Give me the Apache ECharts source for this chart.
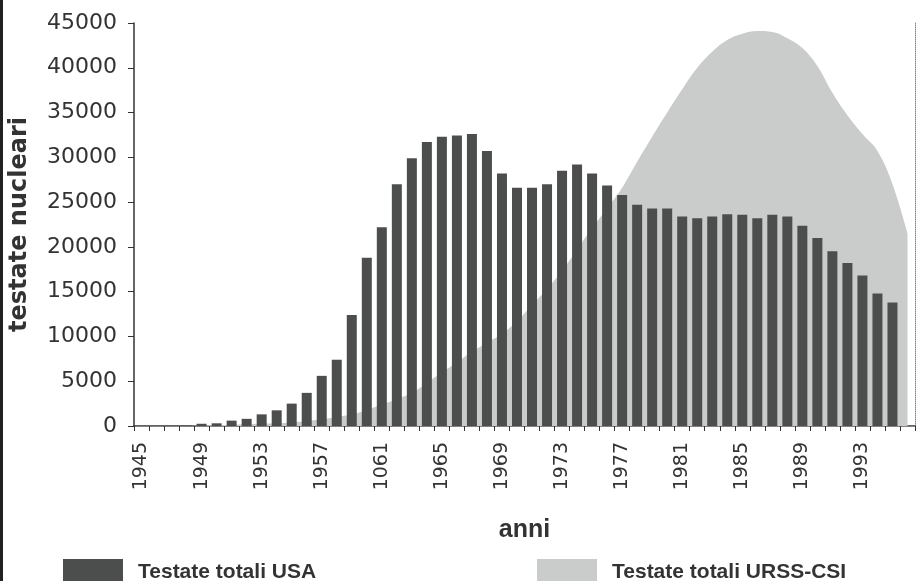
<!DOCTYPE html>
<html>
<head>
<meta charset="utf-8">
<script src="https://cdn.jsdelivr.net/npm/echarts@6/dist/echarts.min.js"></script>
<style>
  html, body { margin: 0; padding: 0; background: #fff; }
  #chart { width: 923px; height: 581px; }
</style>
</head>
<body>
<div id="chart"></div>
<script>
// anni 1945-1996 (il 1961 e' stampato "1061" nel grafico originale)
var anni = ['1945','1946','1947','1948','1949','1950','1951','1952','1953','1954',
  '1955','1956','1957','1958','1959','1960','1061','1962','1963','1964',
  '1965','1966','1967','1968','1969','1970','1971','1972','1973','1974',
  '1975','1976','1977','1978','1979','1980','1981','1982','1983','1984',
  '1985','1986','1987','1988','1989','1990','1991','1992','1993','1994',
  '1995','1996'];

// testate totali USA (barre)
var usa = [6, 10, 15, 50, 250, 300, 600, 800, 1300, 1750,
  2500, 3700, 5600, 7400, 12400, 18800, 22200, 27000, 29900, 31700,
  32300, 32450, 32600, 30700, 28200, 26600, 26600, 27000, 28500, 29200,
  28200, 26850, 25800, 24700, 24300, 24300, 23400, 23200, 23400, 23650,
  23600, 23200, 23600, 23400, 22350, 21000, 19500, 18200, 16800, 14800,
  13800, null];

// testate totali URSS-CSI (area)
var urss = [0, 0, 0, 0, 50, 100, 150, 200, 250, 300,
  400, 550, 750, 1000, 1300, 1800, 2400, 3000, 3700, 4800,
  6000, 7100, 8300, 9300, 10300, 11700, 13500, 15300, 17300, 19700,
  22100, 24300, 26600, 29500, 32300, 35000, 37600, 40000, 41800, 43100,
  43800, 44100, 44000, 43300, 42200, 40200, 37200, 34700, 32600, 30700,
  27000, 21500];

var colUsa = '#4b4e4c';
var colUrss = '#c9cccb';
var testo = '#333';

var chart = echarts.init(document.getElementById('chart'));

var option = {
  backgroundColor: '#fff',
  animation: false,
  grid: { left: 134, right: 8, top: 23, bottom: 155 },
  graphic: [
    { type: 'rect', left: 0, top: 0, shape: { width: 3, height: 581 }, style: { fill: '#222' } }
  ],
  legend: [
    {
      left: 58, top: 554,
      itemWidth: 60, itemHeight: 27,
      textStyle: { fontFamily: 'Liberation Sans', fontWeight: 'bold', fontSize: 21, color: testo, padding: [0, 0, 0, 10] },
      data: [{ name: 'Testate totali USA', icon: 'rect', itemStyle: { color: colUsa } }]
    },
    {
      left: 532, top: 554,
      itemWidth: 60, itemHeight: 27,
      textStyle: { fontFamily: 'Liberation Sans', fontWeight: 'bold', fontSize: 21, color: testo, padding: [0, 0, 0, 10] },
      data: [{ name: 'Testate totali URSS-CSI', icon: 'rect', itemStyle: { color: colUrss } }]
    }
  ],
  xAxis: [
    {
      type: 'category',
      data: anni,
      name: 'anni',
      nameLocation: 'middle',
      nameGap: 92,
      nameTextStyle: { fontFamily: 'Liberation Sans', fontWeight: 'bold', fontSize: 25, color: testo },
      axisLine: { lineStyle: { color: testo, width: 1.5 } },
      axisTick: { show: true, interval: 0, length: 5, lineStyle: { color: testo } },
      axisLabel: {
        interval: 3, rotate: 90, margin: 16,
        fontFamily: 'DejaVu Sans', fontSize: 19, color: testo
      },
      splitLine: { show: false }
    },
    {
      type: 'category',
      data: anni,
      position: 'top',
      axisLine: { lineStyle: { color: '#888', type: 'dotted' } },
      axisTick: { show: false },
      axisLabel: { show: false }
    }
  ],
  yAxis: [
    {
      type: 'value',
      min: 0, max: 45000, interval: 5000,
      name: 'testate nucleari',
      nameLocation: 'middle',
      nameGap: 102,
      nameRotate: 90,
      nameTextStyle: { fontFamily: 'DejaVu Sans', fontWeight: 'bold', fontSize: 24, color: testo },
      axisLine: { show: true, lineStyle: { color: testo, width: 1.5 } },
      axisTick: { show: true, length: 6, lineStyle: { color: testo } },
      axisLabel: {
        margin: 17, fontFamily: 'DejaVu Sans', fontSize: 22, color: testo,
        formatter: function (v) { return String(v); }
      },
      splitLine: { show: false }
    },
    {
      type: 'value',
      min: 0, max: 45000, interval: 5000,
      position: 'right',
      axisLine: { show: true, lineStyle: { color: '#888', type: 'dotted' } },
      axisTick: { show: false },
      axisLabel: { show: false },
      splitLine: { show: false }
    }
  ],
  series: [
    {
      name: 'Testate totali URSS-CSI',
      type: 'line',
      data: urss,
      smooth: 0.4,
      symbol: 'none',
      z: 1,
      itemStyle: { color: colUrss },
      lineStyle: { width: 0, color: colUrss },
      areaStyle: { color: colUrss, opacity: 1 }
    },
    {
      name: 'Testate totali USA',
      type: 'bar',
      data: usa,
      barWidth: 10,
      z: 3,
      itemStyle: { color: colUsa }
    }
  ]
};

chart.setOption(option);
</script>
</body>
</html>
